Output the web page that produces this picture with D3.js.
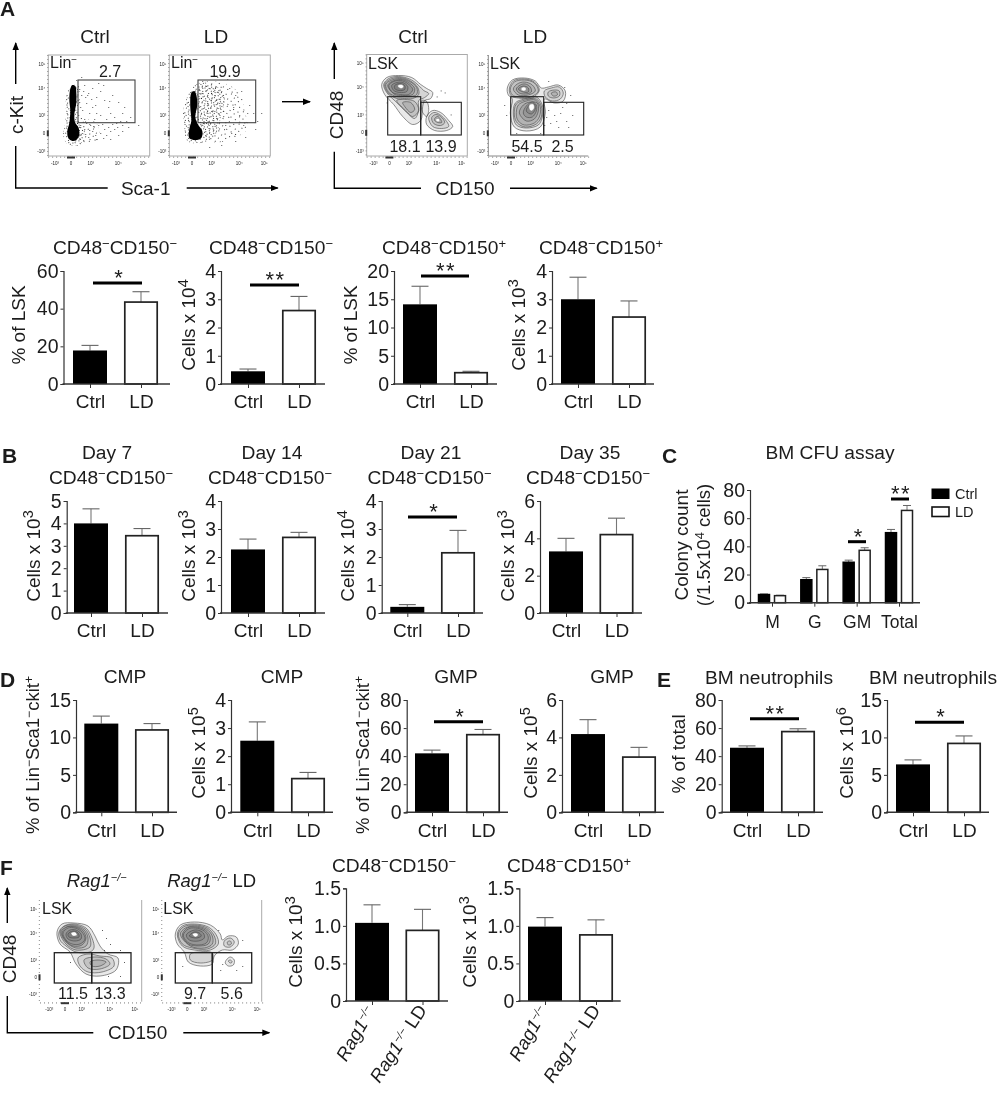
<!DOCTYPE html>
<html><head><meta charset="utf-8">
<style>html,body{margin:0;padding:0;background:#fff}svg{display:block;filter:blur(0.3px)}text{font-family:"Liberation Sans",Arial,sans-serif;fill:#1c1c1c}</style>
<script src="https://cdn.jsdelivr.net/npm/d3@7/dist/d3.min.js"></script>
</head><body><svg id="fig" width="1000" height="1094"></svg>
<script>
// ---------- bar chart data ----------
const ctrlLd = ["Ctrl","LD"];
const ragCats = ["Rag1-/-","Rag1-/- LD"];
const a1Mean=[17.8,43.5], a1Top=[20.5,49],   a1Ticks=[0,20,40,60];
const a2Mean=[0.45,2.6],  a2Top=[0.53,3.1],  a2Ticks=[0,1,2,3,4];
const a3Mean=[14.1,2.0],  a3Top=[17.3,2.25], a3Ticks=[0,5,10,15,20];
const a4Mean=[3.0,2.37],  a4Top=[3.78,2.94], a4Ticks=[0,1,2,3,4];
const b1Mean=[4.0,3.45],  b1Top=[4.65,3.77], b1Ticks=[0,1,2,3,4,5];
const b2Mean=[2.27,2.7],  b2Top=[2.64,2.88], b2Ticks=[0,1,2,3,4];
const b3Mean=[0.22,2.15], b3Top=[0.3,2.95],  b3Ticks=[0,1,2,3,4];
const b4Mean=[3.3,4.2],   b4Top=[4.0,5.08],  b4Ticks=[0,2,4,6];
const d1Mean=[11.85,11.0],d1Top=[12.85,11.85],d1Ticks=[0,5,10,15];
const d2Mean=[2.55,1.2],  d2Top=[3.22,1.42], d2Ticks=[0,1,2,3,4];
const d3Mean=[42,55.3],   d3Top=[44.3,59],   d3Ticks=[0,20,40,60,80];
const d4Mean=[4.18,2.95], d4Top=[4.95,3.47], d4Ticks=[0,2,4,6];
const e1Mean=[46,57.5],   e1Top=[47.3,59.5], e1Ticks=[0,20,40,60,80];
const e2Mean=[6.4,9.2],   e2Top=[7.0,10.2],  e2Ticks=[0,5,10,15];
const f1Mean=[1.04,0.94], f1Top=[1.28,1.22], fTicks=[0,0.5,1,1.5];
const f2Mean=[0.99,0.88], f2Top=[1.11,1.08];
const fTickLabels=["0","0.5","1.0","1.5"];
const cfuCats=["M","G","GM","Total"];
const cfuCtrl=[5.8,16.3,28.7,49.7], cfuCtrlTop=[6.2,17.8,30.2,52];
const cfuLd=[5.0,23.6,37.2,65.5],   cfuLdTop=[5.3,26.2,39,69];
const cfuTicks=[0,20,40,60,80];

// ---------- flow cytometry readings (panel units, origin top-left) ----------
const lin1Solid=[[[22,34],[24,30],[27,31],[28,38],[28,48],[26,60],[27,68],[30,72],[31,80],[28,85],[24,86],[20,83],[19,76],[21,68],[22,56],[21,44]]];
const lin1Sparse=[[[29,64],[48,68],[50,84],[32,90],[28,80]]];
const lin1Dense=[[[17,68],[20,34],[30,30],[31,68],[36,78],[31,90],[19,89],[15,80]]];
const lin1Dots=[[31,34],[33,40],[36,30],[40,38],[44,33],[48,42],[52,36],[47,50],[38,48],[34,55],[41,58],[56,45],[60,52],[64,40],[70,47],[52,60],[46,64],[58,64],[66,62],[74,58],[36,64],[31,47],[82,62],[78,66],[68,68],[60,72],[50,70],[42,70],[36,74],[44,76],[52,78],[58,80],[66,74],[74,76],[80,72],[40,82],[48,84],[34,78],[38,68],[56,74],[30,60],[32,70],[35,85],[62,84],[70,80],[90,70],[43,44],[55,30],[28,25],[33,22],[62,58],[74,70],[48,58],[39,40],[44,52],[35,36],[45,71],[54,69],[62,76],[69,72],[37,79],[41,75],[47,80],[55,83],[64,69],[72,66],[32,52],[37,42],[50,28],[61,46],[76,52]];
const lin2Solid=[[[22,38],[25,36],[27,40],[28,50],[26,62],[29,70],[33,76],[32,83],[26,85],[20,83],[20,74],[22,66],[21,52]]];
const lin2Dense=[[[14,55],[22,34],[30,28],[45,30],[55,40],[52,60],[46,80],[32,88],[18,86],[15,72]]];
const lin2Sparse=[[[30,30],[50,27],[68,36],[76,58],[78,74],[62,84],[40,86]]];
const lin2Dots=[[33,26],[48,22],[60,33],[66,40],[72,44],[80,50],[84,58],[88,66],[86,74],[76,82],[66,86],[52,90],[40,92],[92,58],[58,24],[72,36],[64,52],[70,60],[78,58],[56,70],[62,78],[74,70],[50,48],[44,36],[38,48],[54,56]];
const lsk1Contours=[
[[15,30],[20,23],[32,21],[45,23],[54,30],[60,34],[66,38],[64,44],[58,46],[56,52],[54,66],[46,70],[36,62],[27,50],[18,40]],
[[17,30],[22,24],[32,22],[44,25],[52,31],[57,36],[62,39],[58,43],[52,46],[52,56],[48,64],[40,58],[30,48],[20,38]],
[[18,30],[23,25],[33,23],[43,26],[51,33],[52,40],[46,44],[38,44],[30,44],[21,38]],
[[19,30],[24,26],[33,24],[43,27],[50,33],[50,40],[44,42],[38,42],[30,42],[22,38]],
[[21,31],[25,27],[34,25],[42,28],[48,34],[46,40],[36,41],[28,40]],
[[22,31],[27,27],[34,26],[41,29],[46,35],[42,40],[34,40],[26,38]],
[[25,31],[30,28],[36,28],[41,32],[40,37],[33,38],[27,36]],
[[28,31],[33,29],[38,31],[38,35],[32,36],[28,34]],
[[30,46],[38,45],[48,47],[52,56],[46,62],[38,55]],
[[36,48],[44,48],[48,55],[44,58],[38,52]],
[[55,46],[60,47],[62,55],[60,62],[56,58]],
[[60,62],[66,56],[74,58],[82,66],[86,72],[80,76],[68,76],[60,70]],
[[62,63],[67,58],[73,60],[80,67],[82,72],[75,74],[66,72]],
[[65,63],[69,60],[74,62],[78,68],[74,71],[67,69]],
[[68,64],[71,62],[74,65],[75,68],[71,68],[68,66]]];
const lsk1Core=[[[31,31],[35,30],[37,32],[35,34],[32,33]],[[69,65],[72,64],[73,67],[70,67]]];
const lsk1Dots=[[74,36],[78,38],[70,42],[20,48],[84,60]];
const lsk2Contours=[
[[19,33],[24,25],[36,23],[47,26],[53,33],[60,32],[70,30],[77,36],[75,46],[66,48],[56,44],[57,58],[52,72],[38,76],[26,72],[22,58],[24,44],[20,40]],
[[21,34],[25,26],[36,24],[46,27],[51,35],[44,43],[30,43],[23,41]],
[[22,34],[26,27],[36,25],[46,28],[50,36],[42,42],[30,42],[24,40]],
[[25,34],[29,29],[36,27],[44,30],[47,36],[40,40],[30,40]],
[[28,34],[32,30],[37,29],[42,32],[43,37],[37,39],[31,38]],
[[30,34],[35,31],[40,33],[40,37],[35,37]],
[[25,60],[27,48],[36,44],[48,42],[54,50],[54,62],[50,70],[38,73],[28,70]],
[[26,60],[28,49],[37,45],[48,44],[53,51],[53,62],[48,69],[37,72],[29,68]],
[[28,60],[30,50],[38,46],[47,45],[52,52],[51,62],[46,68],[36,70],[30,66]],
[[31,58],[35,50],[42,47],[49,48],[50,56],[46,64],[38,66]],
[[35,58],[38,51],[44,47],[48,50],[48,56],[44,62],[38,62]],
[[38,56],[41,50],[46,49],[47,54],[43,59]],
[[56,36],[63,33],[71,32],[75,38],[72,44],[64,46],[57,42]],
[[60,37],[66,35],[71,36],[71,41],[65,43],[60,41]],
[[63,38],[68,37],[69,40],[65,41]]];
const lsk2Core=[[[33,33],[36,32],[38,34],[36,36],[33,35]],[[41,50],[45,49],[46,53],[43,56],[41,54]]];
const lsk2Dots=[[60,55],[66,60],[72,58],[78,66],[62,68],[56,70],[70,72],[84,60],[74,52],[80,72],[58,62],[68,66],[52,78],[28,78],[18,60],[16,50],[78,48],[82,40],[76,32],[60,26]];
const rag1Contours=[
[[17,32],[22,24],[34,23],[48,26],[55,36],[60,46],[68,54],[78,58],[76,70],[60,76],[46,74],[36,64],[30,52],[20,44]],
[[19,32],[24,26],[34,24],[46,28],[52,38],[54,48],[50,52],[36,52],[26,46],[20,40]],
[[20,32],[25,26],[34,25],[45,29],[50,38],[50,47],[36,50],[26,44]],
[[21,32],[26,27],[34,26],[44,30],[48,38],[46,46],[36,48],[26,42]],
[[22,33],[27,27],[35,27],[43,31],[46,38],[42,45],[33,46],[26,41]],
[[23,33],[28,28],[35,28],[42,32],[45,39],[40,44],[32,44],[26,40]],
[[26,34],[30,30],[36,30],[41,34],[41,39],[35,41],[28,39]],
[[28,34],[33,31],[38,33],[39,37],[34,38],[29,37]],
[[38,58],[48,54],[60,56],[72,58],[74,66],[62,72],[48,72],[40,66]],
[[44,60],[54,57],[66,59],[70,64],[60,69],[48,68]],
[[50,62],[58,60],[66,62],[60,66],[52,66]]];
const rag1Core=[[[31,33],[35,32],[37,35],[33,36]]];
const rag1Dots=[[62,30],[66,38],[70,44],[64,50],[80,50],[84,62],[68,76],[80,76],[30,62]];
const rag2Contours=[
[[13,34],[18,25],[32,22],[48,25],[58,34],[60,40],[66,36],[74,37],[76,44],[70,50],[60,50],[52,56],[50,64],[38,66],[26,62],[22,52],[15,44]],
[[15,34],[20,26],[32,24],[46,27],[54,35],[56,44],[48,50],[32,50],[20,46]],
[[16,34],[21,27],[32,25],[45,28],[52,36],[53,44],[45,49],[30,48],[20,44]],
[[18,34],[23,28],[32,26],[44,29],[50,36],[50,44],[42,48],[28,46]],
[[20,35],[25,28],[33,27],[43,30],[48,37],[46,44],[36,46],[26,44]],
[[21,35],[26,29],[33,28],[42,31],[46,37],[44,43],[34,45],[25,42]],
[[24,35],[29,31],[35,30],[41,33],[42,38],[36,41],[27,40]],
[[27,36],[32,32],[37,33],[39,36],[34,38]],
[[28,54],[38,52],[50,53],[50,60],[38,63],[28,60]],
[[62,41],[68,38],[72,42],[68,47],[62,46]],
[[65,42],[68,41],[69,44],[66,45]],
[[64,60],[68,57],[72,60],[71,65],[66,66],[63,63]],
[[66,61],[68,60],[70,62],[68,63]]];
const rag2Core=[[[30,34],[34,33],[36,35],[33,37]]];
const rag2Dots=[[80,40],[78,52],[60,64],[58,70],[74,70],[80,66],[20,66],[56,30]];
const flowTickLabels=["-10³","0","10³","10⁴","10⁵"];

// ---------- drawing ----------
const svg=d3.select("#fig");
const FS=19, TFS=19.2, TICKFS=19.5, SUP=13;
const INK="#1c1c1c", AXIS="#333";

const defs=svg.append("defs");
defs.append("filter").attr("id","soft2").append("feGaussianBlur").attr("stdDeviation",0.6);
function stipple(id,w,h,dots){
  const p=defs.append("pattern").attr("id",id).attr("patternUnits","userSpaceOnUse").attr("width",w).attr("height",h).attr("patternTransform","rotate(19)");
  p.selectAll("rect").data(dots).join("rect").attr("x",d=>d[0]).attr("y",d=>d[1]).attr("width",0.9).attr("height",0.9).attr("fill","#111");
}
stipple("dense",13,11,[[0,0],[3,2],[6,0],[9,3],[11,1],[1,5],[5,4],[8,6],[12,6],[3,8],[6,9],[10,9],[0,9],[4,6],[11,4],[7,2],[2,3],[9,8]]);
stipple("sparse",17,13,[[1,1],[6,2],[11,0],[15,3],[3,5],[9,6],[13,7],[1,9],[6,10],[11,11],[16,10]]);

function rich(g,parts,attrs){
  const t=g.append("text");
  Object.entries(attrs).forEach(([k,v])=>t.attr(k,v));
  parts.forEach(p=>{
    const o=typeof p==="string"?{s:p}:p;
    const ts=t.append("tspan").text(o.s);
    if(o.sup){ts.attr("font-size",o.size||SUP).attr("baseline-shift",o.shift||6);}
    if(o.i){ts.attr("font-style","italic");}
  });
  return t;
}
const m={s:"−",sup:true}, plus={s:"+",sup:true};
const cd48neg150neg=["CD48",m,"CD150",m], cd48neg150pos=["CD48",m,"CD150",plus];
const cells=e=>["Cells x 10",{s:e,sup:true,size:14.5,shift:7}];
const mSmall={s:"−",sup:true,size:12}, plusSmall={s:"+",sup:true,size:12};
const linLabel=["% of Lin",mSmall,"Sca1",mSmall,"ckit",plusSmall];

function yLabel(parts,x,y,size){
  rich(svg,parts,{transform:`translate(${x},${y}) rotate(-90)`,"text-anchor":"middle","font-size":size||FS});
}
function title(parts,x,y,size){rich(svg,parts,{x,y,"text-anchor":"middle","font-size":size||TFS});}

function barChart(c){
  const g=svg.append("g");
  const cats=c.cats||ctrlLd;
  const x=d3.scalePoint().domain(cats).range(c.cx);
  const y=d3.scaleLinear().domain([0,d3.max(c.ticks)]).range([c.base,c.top]);
  const w=34;
  const rows=cats.map((k,i)=>({k,i,v:c.mean[i],t:c.upper[i]}));
  g.selectAll("line.err").data(rows).join("line").attr("x1",d=>x(d.k)).attr("x2",d=>x(d.k)).attr("y1",d=>y(d.v)).attr("y2",d=>y(d.t)).attr("stroke","#777").attr("stroke-width",1.1);
  g.selectAll("line.cap").data(rows).join("line").attr("x1",d=>x(d.k)-8.5).attr("x2",d=>x(d.k)+8.5).attr("y1",d=>y(d.t)).attr("y2",d=>y(d.t)).attr("stroke","#666").attr("stroke-width",1.1);
  g.selectAll("rect").data(rows).join("rect")
    .attr("x",d=>x(d.k)-w/2+(d.i?0.8:0)).attr("width",d=>d.i?w-1.6:w)
    .attr("y",d=>y(d.v)).attr("height",d=>c.base-y(d.v))
    .attr("fill",d=>d.i?"#fff":"#000").attr("stroke",d=>d.i?"#222":"none").attr("stroke-width",1.7);
  axes(g,c,x,y,!c.rotated);
  if(c.sig) sig(c.sig[0],c.sig[1],c.sig[2],c.sig[3]);
  return {x,y};
}
function axes(g,c,x,y,showLabels){
  const ya=d3.axisLeft(y).tickValues(c.ticks).tickSize(3).tickPadding(2);
  ya.tickFormat(c.tickLabels?((d,i)=>c.tickLabels[i]):d3.format("d"));
  const gy=g.append("g").attr("transform",`translate(${c.ax},0)`).call(ya);
  const xa=d3.axisBottom(x).tickSize(4).tickSizeOuter(0).tickPadding(c.xPad||7);
  if(!showLabels) xa.tickFormat("");
  const gx=g.append("g").attr("transform",`translate(0,${c.base})`).call(xa);
  gx.select(".domain").remove();
  gy.selectAll("text").attr("font-size",TICKFS);
  gx.selectAll("text").attr("font-size",FS);
  [gx,gy].forEach(s=>{s.selectAll("text").attr("fill",INK).style("font-family",'"Liberation Sans",Arial,sans-serif');s.selectAll(".tick line").attr("stroke",AXIS).attr("stroke-width",1);});
  gy.select(".domain").attr("stroke",AXIS).attr("stroke-width",1.2);
  g.append("line").attr("x1",c.ax-1).attr("x2",c.end).attr("y1",c.base).attr("y2",c.base).attr("stroke",AXIS).attr("stroke-width",1.6);
}
function sig(x1,x2,yy,stars){
  svg.append("line").attr("x1",x1).attr("x2",x2).attr("y1",yy).attr("y2",yy).attr("stroke","#000").attr("stroke-width",3);
  svg.append("text").attr("x",(x1+x2)/2+1).attr("y",yy+2).attr("text-anchor","middle").attr("font-size",22).attr("letter-spacing",stars.length>1?1.5:0).attr("fill","#000").text(stars);
}

barChart({mean:a1Mean,upper:a1Top,ticks:a1Ticks,ax:63.5,end:170,top:271,base:384,cx:[90,141],sig:[93,142,283,"*"]});
barChart({mean:a2Mean,upper:a2Top,ticks:a2Ticks,ax:221,end:325,top:271,base:384,cx:[248,299],sig:[250,299,285,"**"]});
barChart({mean:a3Mean,upper:a3Top,ticks:a3Ticks,ax:394,end:497,top:271,base:384,cx:[420,471],sig:[421,469,276,"**"]});
barChart({mean:a4Mean,upper:a4Top,ticks:a4Ticks,ax:552,end:654,top:271,base:384,cx:[578,629]});
title(cd48neg150neg,115,254);title(cd48neg150neg,271,254);title(cd48neg150pos,444,254);title(cd48neg150pos,601,254);
yLabel(["% of LSK"],25,325);yLabel(cells("4"),195,325);yLabel(["% of LSK"],357,325);yLabel(cells("3"),525,325);

barChart({mean:b1Mean,upper:b1Top,ticks:b1Ticks,ax:66.7,end:168,top:501,base:613,cx:[91,142]});
barChart({mean:b2Mean,upper:b2Top,ticks:b2Ticks,ax:221,end:325,top:501,base:613,cx:[248,299]});
barChart({mean:b3Mean,upper:b3Top,ticks:b3Ticks,ax:381.7,end:483,top:501,base:613,cx:[407.3,458],sig:[408,457,517,"*"]});
barChart({mean:b4Mean,upper:b4Top,ticks:b4Ticks,ax:540,end:642,top:501,base:613,cx:[566,616.5]});
[["Day 7",107,111],["Day 14",272,270],["Day 21",431,429.5],["Day 35",590,588]].forEach(d=>{title([d[0]],d[1],459);title(cd48neg150neg,d[2],484);});
yLabel(cells("3"),40,556);yLabel(cells("3"),195,556);yLabel(cells("4"),354,556);yLabel(cells("3"),514,556);

(function(){
  const g=svg.append("g");
  const c={ticks:cfuTicks,ax:750,end:920,top:490,base:602.7,xPad:9};
  const x=d3.scalePoint().domain(cfuCats).range([772,899]);
  const y=d3.scaleLinear().domain([0,80]).range([c.base,c.top]);
  const series=[{m:cfuCtrl,t:cfuCtrlTop,o:-8,f:"#000",s:"none"},{m:cfuLd,t:cfuLdTop,o:8,f:"#fff",s:"#222"}];
  series.forEach(se=>{
    const rows=cfuCats.map((k,i)=>({k,v:se.m[i],t:se.t[i]}));
    g.selectAll(null).data(rows).join("line").attr("x1",d=>x(d.k)+se.o).attr("x2",d=>x(d.k)+se.o).attr("y1",d=>y(d.v)).attr("y2",d=>y(d.t)).attr("stroke","#777").attr("stroke-width",1);
    g.selectAll(null).data(rows).join("line").attr("x1",d=>x(d.k)+se.o-4).attr("x2",d=>x(d.k)+se.o+4).attr("y1",d=>y(d.t)).attr("y2",d=>y(d.t)).attr("stroke","#666").attr("stroke-width",1);
    g.selectAll(null).data(rows).join("rect").attr("x",d=>x(d.k)+se.o-5.5).attr("width",11).attr("y",d=>y(d.v)).attr("height",d=>c.base-y(d.v)).attr("fill",se.f).attr("stroke",se.s==="none"?"#000":se.s).attr("stroke-width",1.5);
  });
  axes(g,c,x,y,true);
  g.selectAll("text").filter(function(){return cfuCats.includes(this.textContent);}).attr("font-size",17.5);
  sig(848,866,541.7,"*");sig(891,909,499,"**");
  title(["BM CFU assay"],830,459);
  yLabel(["Colony count"],688,545);
  yLabel(["(/1.5x10",{s:"4",sup:true},"  cells)"],710,545,18.5);
  g.append("rect").attr("x",932).attr("y",489).attr("width",17).attr("height",9.5).attr("fill","#000").attr("stroke","#000").attr("stroke-width",1);
  g.append("rect").attr("x",932).attr("y",507).attr("width",17).attr("height",9.5).attr("fill","#fff").attr("stroke","#111").attr("stroke-width",1.6);
  g.append("text").attr("x",955).attr("y",499).attr("font-size",14.5).text("Ctrl");
  g.append("text").attr("x",955).attr("y",517).attr("font-size",14.5).text("LD");
})();

barChart({mean:d1Mean,upper:d1Top,ticks:d1Ticks,ax:76,end:177,top:700,base:812.3,cx:[101.3,152]});
barChart({mean:d2Mean,upper:d2Top,ticks:d2Ticks,ax:231,end:333,top:700,base:812.3,cx:[257.3,308]});
barChart({mean:d3Mean,upper:d3Top,ticks:d3Ticks,ax:406.7,end:508,top:700,base:812.3,cx:[432,483],sig:[434,483,721.7,"*"]});
barChart({mean:d4Mean,upper:d4Top,ticks:d4Ticks,ax:562,end:664,top:700,base:812.3,cx:[588,639]});
barChart({mean:e1Mean,upper:e1Top,ticks:e1Ticks,ax:721.7,end:823,top:700,base:812.3,cx:[747,798],sig:[750,799,718.7,"**"]});
barChart({mean:e2Mean,upper:e2Top,ticks:e2Ticks,ax:887,end:989,top:700,base:812.3,cx:[913,964],sig:[915,964,722.3,"*"]});
title(["CMP"],125,683);title(["CMP"],282,683);title(["GMP"],456,683);title(["GMP"],612,683);
title(["BM neutrophils"],769,684);title(["BM neutrophils"],933,684);
yLabel(linLabel,39,755,18.5);yLabel(cells("5"),205,753);yLabel(linLabel,369,755,18.5);yLabel(cells("5"),537,753);
yLabel(["% of total"],685,754);yLabel(cells("6"),853,753);

function ragLabels(sc,base){
  ragCats.forEach((k,i)=>{
    const parts=[{s:"Rag1",i:true},{s:"−/−",sup:true,i:true,size:10.5}];
    if(i) parts.push(" LD");
    rich(svg,parts,{transform:`translate(${sc.x(k)+(i?5:4)},${base+(i?9:10)}) rotate(${i?-57:-60})`,"text-anchor":"end","font-size":18.5});
  });
}
const f1=barChart({cats:ragCats,rotated:true,mean:f1Mean,upper:f1Top,ticks:fTicks,tickLabels:fTickLabels,ax:346,end:448,top:888.3,base:1001,cx:[372,422.5]});
const f2=barChart({cats:ragCats,rotated:true,mean:f2Mean,upper:f2Top,ticks:fTicks,tickLabels:fTickLabels,ax:519.3,end:620.7,top:888.3,base:1001,cx:[545,596]});
ragLabels(f1,1001);ragLabels(f2,1001);
title(cd48neg150neg,394,872);title(cd48neg150pos,569,872);
yLabel(cells("3"),302,942);yLabel(cells("3"),476,942);

// ---------- flow plots ----------
function flow(p){
  const g=svg.append("g");
  const x=d3.scaleLinear().domain([0,100]).range([p.l,p.l+100]);
  const y=d3.scaleLinear().domain([0,100]).range([p.t,p.t+100]);
  const line=d3.line().x(d=>x(d[0])).y(d=>y(d[1])).curve(d3.curveCatmullRomClosed.alpha(0.5));
  if(p.frame==="full") g.append("rect").attr("x",p.l).attr("y",p.t).attr("width",p.w).attr("height",p.h).attr("fill","none").attr("stroke","#aaa").attr("stroke-width",1);
  if(p.frame==="rightOnly") g.append("line").attr("x1",p.l+p.w).attr("x2",p.l+p.w).attr("y1",p.t).attr("y2",p.t+p.h).attr("stroke","#aaa");
  if(p.frame==="lb"){g.append("path").attr("d",`M${p.l},${p.t}V${p.t+p.h}H${p.l+p.w}`).attr("fill","none").attr("stroke","#888");}
  const poly=d3.line().x(d=>x(d[0])).y(d=>y(d[1])).curve(d3.curveCatmullRomClosed);
  (p.sparse||[]).forEach(a=>g.append("path").attr("d",poly(a)).attr("fill","url(#sparse)"));
  (p.dense||[]).forEach(a=>g.append("path").attr("d",poly(a)).attr("fill","url(#dense)"));
  (p.solid||[]).forEach(a=>g.append("path").attr("d",poly(a)).attr("fill","#000").attr("filter","url(#soft2)"));
  g.selectAll(null).data(p.contours||[]).join("path").attr("d",line).attr("fill","rgba(0,0,0,0.085)").attr("stroke","#444").attr("stroke-width",0.6);
  g.selectAll(null).data(p.core||[]).join("path").attr("d",line).attr("fill","#fff").attr("stroke","#666").attr("stroke-width",0.4);
  g.selectAll(null).data(p.dots||[]).join("rect").attr("x",d=>x(d[0])).attr("y",d=>y(d[1])).attr("width",0.9).attr("height",0.9).attr("fill","#333");
  const yT=p.yTicks, xT=p.xTicks;
  g.selectAll(null).data(yT).join("text").attr("x",p.l-3).attr("y",d=>y(d)+1.5).attr("text-anchor","end").attr("font-size",4.5).attr("fill","#666").text((d,i)=>flowTickLabels[4-i]);
  g.selectAll(null).data(xT).join("text").attr("x",d=>x(d)).attr("y",p.t+p.h+9).attr("text-anchor","middle").attr("font-size",4.5).attr("fill","#666").text((d,i)=>flowTickLabels[i]);
  g.selectAll(null).data(d3.range(0,101,4)).join("rect").attr("x",p.l-1.2).attr("y",d=>y(d)).attr("width",1.2).attr("height",0.8).attr("fill","#888");
  g.selectAll(null).data(d3.range(0,101,4)).join("rect").attr("x",d=>x(d)).attr("y",p.t+p.h+0.5).attr("width",0.8).attr("height",1.4).attr("fill","#888");
  g.append("rect").attr("x",x(xT[1])-4).attr("y",p.t+p.h+0.5).attr("width",8).attr("height",2).attr("fill","#333");
  g.append("rect").attr("x",p.l-1.5).attr("y",y(yT[3])-3).attr("width",2).attr("height",6).attr("fill","#333");
  (p.gates||[]).forEach(r=>g.append("rect").attr("x",r[0]).attr("y",r[1]).attr("width",r[2]-r[0]).attr("height",r[3]-r[1]).attr("fill","none").attr("stroke",p.gateStroke||"#444").attr("stroke-width",p.gateW||1.1));
}
const fy=[9.3,33.3,60.7,78.3,96.7], fx=[6.7,22.7,42.4,70,95];
const fy2=[9.3,33.3,60.7,77.3,94], fx2=[9.3,25,41.7,70,95];
flow({l:48.3,t:55,w:101.4,h:101,frame:"full",solid:lin1Solid,dense:lin1Dense,sparse:lin1Sparse,dots:lin1Dots,yTicks:fy,xTicks:fx,gates:[[78,80,135,122.7]]});
flow({l:169.3,t:55,w:101,h:101,frame:"full",solid:lin2Solid,dense:lin2Dense,sparse:lin2Sparse,dots:lin2Dots,yTicks:fy,xTicks:fx,gates:[[198,80,255.7,122.7]]});
flow({l:366.7,t:54.5,w:100.6,h:101.5,frame:"full",contours:lsk1Contours,core:lsk1Core,dots:lsk1Dots,yTicks:fy,xTicks:fx,gates:[[387.7,96.7,420.7,135],[420.7,102.3,461.3,135]],gateStroke:"#222"});
flow({l:488.3,t:55,w:100,h:101,frame:"lb",contours:lsk2Contours,core:lsk2Core,dots:lsk2Dots,yTicks:fy,xTicks:fx,gates:[[510.7,96.7,543.7,135],[543.7,102.3,583.7,135]],gateStroke:"#222"});
flow({l:40,t:900,w:101.7,h:101.7,frame:"rightOnly",contours:rag1Contours,core:rag1Core,dots:rag1Dots,yTicks:fy2,xTicks:fx2,gates:[[54.3,952.7,91.7,983],[91.7,952.7,131,983]],gateStroke:"#222",gateW:1.3});
flow({l:162.3,t:900,w:99.4,h:101.7,frame:"rightOnly",contours:rag2Contours,core:rag2Core,dots:rag2Dots,yTicks:fy2,xTicks:fx2,gates:[[175.3,952.7,212.3,983],[212.3,952.7,251.7,983]],gateStroke:"#222",gateW:1.3});

function lab(parts,x,y,size,anchor){rich(svg,parts,{x,y,"font-size":size,"text-anchor":anchor||"middle"});}
lab(["Ctrl"],95,43,19);lab(["LD"],216,43,19);lab(["Ctrl"],413,43,19);lab(["LD"],535,43,19);
lab(["Lin",{s:"−",sup:true,size:10,shift:5}],50,68,16,"start");lab(["Lin",{s:"−",sup:true,size:10,shift:5}],171,68,16,"start");
lab(["LSK"],368,69,16,"start");lab(["LSK"],490,69,16,"start");
lab(["2.7"],110,77,16);lab(["19.9"],225,77,16);
lab(["18.1"],405,151.5,16);lab(["13.9"],441,151.5,16);lab(["54.5"],527,151.5,16);lab(["2.5"],562.5,151.5,16);
const ragT=[{s:"Rag1",i:true},{s:"−/−",sup:true,i:true,size:11}];
lab(ragT,96.7,887,18.5);lab([...ragT," LD"],211.7,887,18.5);
lab(["LSK"],42,914,16,"start");lab(["LSK"],163.3,914,16,"start");
lab(["11.5"],73,999,16);lab(["13.3"],110,999,16);lab(["9.7"],195,999,16);lab(["5.6"],231.7,999,16);

defs.append("marker").attr("id","arrow").attr("viewBox","0 0 8 8").attr("refX",7).attr("refY",4).attr("markerWidth",8).attr("markerHeight",8).attr("markerUnits","userSpaceOnUse").attr("orient","auto").append("path").attr("d","M0,0.8L8,4L0,7.2z").attr("fill","#000");
function seg(x1,y1,x2,y2,arrow){const l=svg.append("line").attr("x1",x1).attr("y1",y1).attr("x2",x2).attr("y2",y2).attr("stroke","#000").attr("stroke-width",1.4);if(arrow)l.attr("marker-end","url(#arrow)");}
function gateAxes(xv,topA,topB,lowStart,bot,hEnd,arrX1,arrX2,yLab,yLabX,yLabY,xLab,xLabX,xLabY){
  seg(xv,topB,xv,topA,true);
  svg.append("path").attr("d",`M${xv},${lowStart}V${bot}H${hEnd}`).attr("fill","none").attr("stroke","#000").attr("stroke-width",1.4);
  seg(arrX1,bot,arrX2,bot,true);
  rich(svg,[yLab],{transform:`translate(${yLabX},${yLabY}) rotate(-90)`,"text-anchor":"middle","font-size":FS});
  lab([xLab],xLabX,xLabY,FS);
}
gateAxes(15.7,43,84,146,188,107.7,186.7,277.7,"c-Kit",23.3,115,"Sca-1",145.7,195);
gateAxes(334.3,43,79,151.7,188.3,421,510,596.7,"CD48",342.7,115,"CD150",465,195);
gateAxes(7.3,888,923,996,1032.7,93.3,183.3,269.3,"CD48",15.7,959,"CD150",137.7,1039);
seg(282,101.7,310,101.7,true);

[["A",0,16],["B",2,463],["C",662,463],["D",0,687],["E",657,687],["F",0,875]].forEach(d=>{
  svg.append("text").attr("x",d[1]).attr("y",d[2]).attr("font-size",21).attr("font-weight",700).attr("fill","#000").text(d[0]);
});
</script></body></html>
